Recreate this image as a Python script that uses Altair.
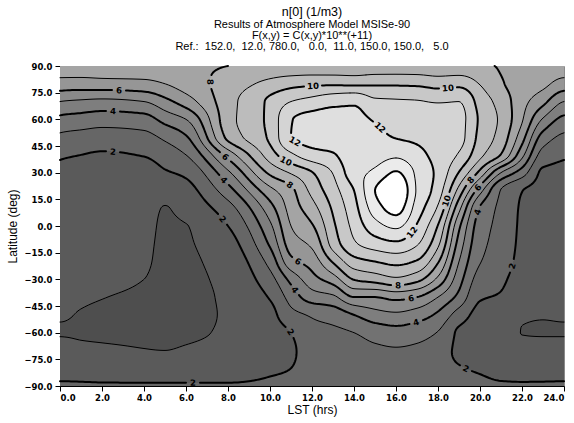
import numpy as np
import pandas as pd
import altair as alt

alt.data_transformers.disable_max_rows()

# ---------------------------------------------------------------------------
# C(x, y): density coefficient (units of 1e11 m^-3) on an LST x latitude grid.
# Each list is one LST column, latitudes running from +90 down to -90.
# LST is periodic, so the 24 h column is the 0 h column.
# ---------------------------------------------------------------------------
lst_knots = [0, 1, 2, 4, 5, 6, 8, 10, 11, 12, 13, 14, 15, 16, 17, 18, 19, 20, 21, 22, 23]
lat_knots = [90, 80, 70, 60, 50, 40, 30, 20, 10, 0,
             -10, -20, -30, -40, -50, -60, -70, -80, -90]

n_00h = [7.6, 6.6, 5.0, 3.75, 2.8, 2.13, 1.75, 1.55, 1.4, 1.3, 1.24, 1.18, 1.13, 1.09, 1.03, 0.97, 1.3, 1.65, 2.15]
n_01h = [7.65, 6.55, 4.85, 3.6, 2.65, 2.0, 1.67, 1.5, 1.38, 1.28, 1.22, 1.16, 1.11, 1.05, 0.98, 0.95, 1.15, 1.58, 2.15]
n_02h = [7.7, 6.6, 4.75, 3.45, 2.55, 1.9, 1.6, 1.45, 1.35, 1.27, 1.2, 1.15, 1.09, 1.01, 0.94, 0.93, 1.1, 1.5, 2.15]
n_04h = [7.7, 6.7, 5.0, 3.6, 2.7, 2.05, 1.6, 1.4, 1.28, 1.2, 1.13, 1.08, 1.0, 0.93, 0.89, 0.9, 1.02, 1.45, 2.15]
n_05h = [7.75, 7.0, 5.7, 4.35, 3.2, 2.45, 1.9, 1.35, 0.97, 0.9, 0.88, 0.86, 0.84, 0.83, 0.82, 0.85, 1.0, 1.45, 2.15]
n_06h = [7.75, 7.45, 6.5, 5.0, 3.9, 3.0, 2.2, 1.65, 1.3, 0.98, 0.94, 0.9, 0.87, 0.85, 0.85, 0.9, 1.07, 1.45, 2.15]
n_08h = [8.0, 8.4, 8.6, 8.6, 8.25, 6.4, 4.8, 3.6, 2.6, 2.0, 1.6, 1.35, 1.2, 1.12, 1.08, 1.1, 1.22, 1.5, 2.15]
n_10h = [8.15, 9.3, 10.2, 10.3, 10.2, 9.5, 8.2, 6.7, 5.6, 4.8, 4.15, 3.35, 2.65, 2.08, 1.7, 1.6, 1.6, 1.85, 2.2]
n_11h = [8.15, 9.65, 11.0, 11.95, 12.0, 10.8, 9.1, 7.75, 7.4, 7.0, 6.5, 5.7, 4.3, 3.4, 2.7, 2.0, 1.85, 2.0, 2.25]
n_12h = [8.15, 9.8, 11.35, 12.3, 12.35, 11.6, 9.95, 9.3, 8.6, 7.9, 7.2, 6.45, 5.6, 4.5, 3.1, 2.7, 2.45, 2.35, 2.3]
n_13h = [8.15, 9.85, 11.7, 12.4, 12.5, 11.9, 11.05, 10.6, 10.15, 9.8, 9.4, 8.1, 6.5, 4.8, 3.4, 2.8, 2.5, 2.4, 2.3]
n_14h = [8.15, 9.8, 11.85, 12.3, 12.5, 12.65, 12.6, 12.0, 11.65, 11.3, 10.85, 9.6, 8.05, 6.0, 4.0, 3.0, 2.6, 2.4, 2.3]
n_15h = [8.15, 9.85, 11.2, 11.9, 12.3, 12.6, 13.2, 14.0, 13.5, 12.6, 11.5, 10.0, 8.4, 6.0, 4.6, 3.4, 2.8, 2.45, 2.3]
n_16h = [8.15, 9.85, 11.1, 11.5, 11.95, 12.8, 14.1, 15.0, 14.4, 13.2, 11.8, 10.3, 8.8, 6.3, 4.8, 3.6, 2.9, 2.5, 2.3]
n_17h = [8.15, 9.8, 11.05, 11.4, 11.8, 12.3, 12.8, 12.9, 12.55, 11.9, 11.1, 9.9, 8.3, 6.0, 4.5, 3.4, 2.8, 2.45, 2.3]
n_18h = [8.15, 9.6, 10.95, 11.4, 11.55, 11.65, 11.75, 11.5, 10.85, 9.95, 9.2, 8.1, 6.75, 5.0, 3.8, 2.95, 2.5, 2.3, 2.2]
n_19h = [8.15, 9.7, 11.0, 11.3, 11.3, 10.9, 9.95, 8.65, 7.3, 6.2, 5.6, 5.0, 4.4, 3.7, 2.55, 1.85, 1.8, 2.05, 2.2]
n_20h = [8.1, 8.95, 9.6, 9.85, 9.7, 9.25, 7.7, 5.4, 3.9, 3.5, 3.3, 3.05, 2.6, 2.1, 1.7, 1.55, 1.6, 1.9, 2.2]
n_21h = [7.95, 8.1, 8.6, 8.8, 8.6, 7.95, 5.0, 2.95, 2.75, 2.68, 2.6, 2.5, 2.2, 1.9, 1.6, 1.45, 1.45, 1.7, 2.15]
n_22h = [7.8, 7.6, 7.35, 7.1, 6.4, 5.3, 3.5, 2.02, 1.9, 1.85, 1.8, 1.7, 1.5, 1.25, 1.04, 0.99, 1.3, 1.6, 2.15]
n_23h = [7.7, 7.25, 6.3, 4.9, 3.6, 2.6, 1.85, 1.7, 1.6, 1.5, 1.42, 1.35, 1.25, 1.15, 1.02, 0.97, 1.3, 1.62, 2.15]

density_columns = [n_00h, n_01h, n_02h, n_04h, n_05h, n_06h, n_08h, n_10h, n_11h, n_12h,
                   n_13h, n_14h, n_15h, n_16h, n_17h, n_18h, n_19h, n_20h, n_21h, n_22h, n_23h]

contour_levels = list(range(1, 15))

# fill grey for the band [k, k+1)
band_grays = ["#4e4e4e", "#5a5a5a", "#666666", "#727272", "#7e7e7e", "#8a8a8a",
              "#969696", "#a4a4a4", "#b0b0b0", "#bcbcbc", "#c8c8c8", "#d4d4d4",
              "#dfdfdf", "#ebebeb", "#ffffff"]

# contour labels: level, LST (h), latitude (deg)
label_level = [6, 4, 2, 8, 6, 4, 2, 12, 10, 8, 10, 10, 12, 10, 8, 6, 4, 12, 8, 6, 4, 2, 2, 6, 4, 2, 2]
label_lst = [2.81, 2.52, 2.52, 7.48, 7.95, 7.71, 7.71, 11.19, 10.76, 10.95, 12.05, 18.52, 15.19,
             18.19, 19.29, 19.76, 20.1, 16.43, 16.1, 16.7, 16.95, 21.8, 19.3, 11.29, 11.1, 10.95, 6.33]
label_lat = [77.6, 64.7, 43.3, 81.0, 40.0, 24.8, 3.4, 47.8, 36.0, 23.6, 79.3, 73.7, 54.6,
             14.6, 28.7, 23.0, 7.3, -0.6, -33.75, -41.0, -54.6, -23.6, -81.0, -20.8, -36.6, -59.6, -86.0]

title_lines = ["n[0] (1/m3)",
               "Results of Atmosphere Model MSISe-90",
               "F(x,y) = C(x,y)*10**(+11)",
               "Ref.:  152.0,  12.0, 780.0,   0.0,  11.0, 150.0, 150.0,   5.0"]

PW, PH = 504, 320  # plot area in pixels


def pchip_slopes(x, y):
    """Fritsch-Carlson monotone slopes; y has one column per curve."""
    h = np.diff(x)[:, None]
    delta = np.diff(y, axis=0) / h
    d = np.zeros_like(y)
    w1 = 2 * h[1:] + h[:-1]
    w2 = h[1:] + 2 * h[:-1]
    same = np.sign(delta[:-1]) * np.sign(delta[1:]) > 0
    with np.errstate(divide="ignore", invalid="ignore"):
        hm = (w1 + w2) / (w1 / delta[:-1] + w2 / delta[1:])
    d[1:-1] = np.where(same, hm, 0.0)

    def edge(h0, h1, m0, m1):
        dd = ((2 * h0 + h1) * m0 - h0 * m1) / (h0 + h1)
        dd = np.where(np.sign(dd) != np.sign(m0), 0.0, dd)
        return np.where((np.sign(m0) != np.sign(m1)) & (np.abs(dd) > 3 * np.abs(m0)), 3 * m0, dd)

    d[0] = edge(h[0], h[1], delta[0], delta[1])
    d[-1] = edge(h[-1], h[-2], delta[-1], delta[-2])
    return d


def pchip_eval(x, y, t):
    d = pchip_slopes(x, y)
    t = np.asarray(t, dtype=float)
    idx = np.clip(np.searchsorted(x, t, side="right") - 1, 0, len(x) - 2)
    x0 = x[idx]
    hh = (x[idx + 1] - x0)[:, None]
    s = ((t - x0)[:, None]) / hh
    y0, y1, d0, d1 = y[idx], y[idx + 1], d[idx], d[idx + 1]
    return ((2 * s ** 3 - 3 * s ** 2 + 1) * y0 + (s ** 3 - 2 * s ** 2 + s) * hh * d0
            + (-2 * s ** 3 + 3 * s ** 2) * y1 + (s ** 3 - s ** 2) * hh * d1)


grid = np.array(density_columns).T[::-1]          # rows: latitude ascending
lat_asc = np.array(lat_knots[::-1], dtype=float)
lst_arr = np.array(lst_knots, dtype=float)
lst_ext = np.concatenate([lst_arr[-3:] - 24, lst_arr, lst_arr[:3] + 24])


def field(lst_vals, lat_vals):
    cols = pchip_eval(lat_asc, grid, lat_vals)                  # (n_lat, n_knots)
    cols = np.concatenate([cols[:, -3:], cols, cols[:, :3]], axis=1)
    return pchip_eval(lst_ext, cols.T, lst_vals).T               # (n_lat, n_lst)


# ---- filled bands: one rect per run of equal band along each pixel row ----
lst_c = (np.arange(PW) + 0.5) * 24 / PW
lat_c = 90 - (np.arange(PH) + 0.5) * 180 / PH
band = np.clip(np.floor(field(lst_c, lat_c)), 0, 14).astype(int)

rects = []
for r in range(PH):
    row = band[r]
    cuts = np.flatnonzero(np.diff(row)) + 1
    starts = np.concatenate([[0], cuts])
    ends = np.concatenate([cuts, [PW]])
    for s, e in zip(starts, ends):
        rects.append({"x0": s * 24 / PW, "x1": e * 24 / PW,
                      "y0": 90 - r * 180 / PH, "y1": 90 - (r + 1) * 180 / PH,
                      "fill": band_grays[row[s]]})
fill_df = pd.DataFrame(rects)

# ---- contour lines (marching squares on pixel corners) ----
lst_e = np.arange(PW + 1) * 24 / PW
lat_e = 90 - np.arange(PH + 1) * 180 / PH
V = field(lst_e, lat_e)


def trace(level):
    above = V >= level
    a00, a01, a10, a11 = above[:-1, :-1], above[:-1, 1:], above[1:, :-1], above[1:, 1:]
    mixed = (a00 != a01) | (a00 != a10) | (a00 != a11)
    adj = {}

    def link(p, q):
        adj.setdefault(p, []).append(q)
        adj.setdefault(q, []).append(p)

    for i, j in zip(*np.nonzero(mixed)):
        i, j = int(i), int(j)
        top = ("h", i, j) if above[i, j] != above[i, j + 1] else None
        right = ("v", i, j + 1) if above[i, j + 1] != above[i + 1, j + 1] else None
        bottom = ("h", i + 1, j) if above[i + 1, j] != above[i + 1, j + 1] else None
        left = ("v", i, j) if above[i, j] != above[i + 1, j] else None
        es = [e for e in (top, right, bottom, left) if e is not None]
        if len(es) == 2:
            link(es[0], es[1])
        elif len(es) == 4:
            c = (V[i, j] + V[i, j + 1] + V[i + 1, j] + V[i + 1, j + 1]) / 4
            if (c >= level) == above[i, j]:
                link(top, right)
                link(bottom, left)
            else:
                link(top, left)
                link(right, bottom)

    def coord(e):
        kind, i, j = e
        if kind == "h":
            a, b = V[i, j], V[i, j + 1]
            return (j + (level - a) / (b - a), i)
        a, b = V[i, j], V[i + 1, j]
        return (j, i + (level - a) / (b - a))

    seen = set()

    def walk(s):
        chain = [s]
        seen.add(s)
        cur = s
        while True:
            nxt = [q for q in adj[cur] if q not in seen]
            if not nxt:
                break
            cur = nxt[0]
            chain.append(cur)
            seen.add(cur)
        return chain

    chains = []
    for e, nb in adj.items():
        if len(nb) == 1 and e not in seen:
            chains.append(walk(e))
    for e in list(adj):
        if e not in seen:
            ch = walk(e)
            ch.append(ch[0])
            chains.append(ch)
    return [np.array([coord(e) for e in ch], dtype=float) for ch in chains]


def cut(line, cx, cy, rad):
    keep = np.hypot(line[:, 0] - cx, line[:, 1] - cy) > rad
    pieces, cur = [], []
    for pt, ok in zip(line, keep):
        if ok:
            cur.append(pt)
        elif cur:
            pieces.append(np.array(cur))
            cur = []
    if cur:
        pieces.append(np.array(cur))
    return [p for p in pieces if len(p) > 1]


line_rows, label_rows = [], []
line_id = 0
for lev in contour_levels:
    lines = trace(lev)
    for lv, lx, ly in zip(label_level, label_lst, label_lat):
        if lv != lev or not lines:
            continue
        px, py = lx * PW / 24, (90 - ly) * PH / 180
        best = None
        for li, ln in enumerate(lines):
            d = np.hypot(ln[:, 0] - px, ln[:, 1] - py)
            k = int(np.argmin(d))
            if best is None or d[k] < best[0]:
                best = (d[k], li, k)
        _, li, k = best
        ln = lines[li]
        sx, sy = ln[k]
        p0 = ln[max(k - 4, 0)]
        p1 = ln[min(k + 4, len(ln) - 1)]
        ang = np.degrees(np.arctan2(p1[1] - p0[1], p1[0] - p0[0]))
        if ang > 90:
            ang -= 180
        if ang < -90:
            ang += 180
        label_rows.append({"lst": sx * 24 / PW, "lat": 90 - sy * 180 / PH,
                           "t": str(lev), "ang": ang % 360})
        rad = 6.5 if lev < 10 else 8.5
        new = []
        for l2 in lines:
            new.extend(cut(l2, sx, sy, rad))
        lines = new
    for ln in lines:
        pts = ln[::2]
        if len(ln) % 2 == 0:
            pts = np.vstack([pts, ln[-1:]])
        for k, (x, y) in enumerate(pts):
            line_rows.append({"lst": x * 24 / PW, "lat": 90 - y * 180 / PH,
                              "id": line_id, "k": k, "w": 2.0 if lev % 2 == 0 else 1.0})
        line_id += 1

line_df = pd.DataFrame(line_rows)
label_df = pd.DataFrame(label_rows)

# ---- chart ----
xs = alt.Scale(domain=[0, 24], nice=False, zero=False)
ys = alt.Scale(domain=[-90, 90], nice=False, zero=False)
FONT = "Liberation Sans"
x_axis = alt.Axis(values=list(range(0, 25, 2)), format=".1f", grid=False,
                  tickSize=5, tickColor="black", domainColor="black",
                  labelFont="DejaVu Sans", labelFontWeight="bold", labelFontSize=8.5,
                  labelColor="black", labelPadding=2,
                  titleFont=FONT, titleFontSize=12, titleFontWeight="normal",
                  titleColor="black", titlePadding=3)
y_axis = alt.Axis(values=list(range(-90, 91, 15)), format=".1f", grid=False,
                  tickSize=5, tickColor="black", domainColor="black",
                  labelFont="DejaVu Sans", labelFontWeight="bold", labelFontSize=8.5,
                  labelColor="black", labelPadding=3,
                  titleFont=FONT, titleFontSize=12, titleFontWeight="normal",
                  titleColor="black", titlePadding=4)


def xe(field_name):
    return alt.X(field_name, type="quantitative", scale=xs, axis=x_axis, title="LST (hrs)")


def ye(field_name):
    return alt.Y(field_name, type="quantitative", scale=ys, axis=y_axis, title="Latitude (deg)")


fill_layer = alt.Chart(fill_df).mark_rect(strokeWidth=0).encode(
    x=xe("x0"), x2="x1", y=ye("y0"), y2="y1",
    fill=alt.Fill("fill:N", scale=None),
)

line_layer = alt.Chart(line_df).mark_line(color="black", strokeCap="round", strokeJoin="round").encode(
    x=xe("lst"), y=ye("lat"),
    detail="id:N", order="k:Q",
    strokeWidth=alt.StrokeWidth("w:Q", scale=None),
)

label_layer = alt.Chart(label_df).mark_text(
    font="DejaVu Sans", fontWeight="bold", fontSize=8.5, color="black",
    align="center", baseline="middle",
).encode(x=xe("lst"), y=ye("lat"), text="t:N", angle=alt.Angle("ang:Q", scale=None))

one = pd.DataFrame({"a": [0]})
title_layers = []
for txt, yy, fs in zip(title_lines, [-54, -41.5, -30, -19], [12.5, 11, 11, 11]):
    title_layers.append(
        alt.Chart(one).mark_text(text=txt.replace(" ", "\u00a0"), font=FONT, fontSize=fs,
                                 color="black", align="center", baseline="middle")
        .encode(x=alt.value(PW / 2), y=alt.value(yy))
    )

chart = alt.layer(fill_layer, line_layer, label_layer, *title_layers).properties(
    width=PW, height=PH,
    padding={"left": 60, "top": 66, "right": 10, "bottom": 37},
    autosize=alt.AutoSizeParams(type="none"),
    background="white",
).configure_view(stroke="#8a8a8a", strokeWidth=1)

chart.save("out.html", embed_options={"renderer": "svg", "actions": False})
